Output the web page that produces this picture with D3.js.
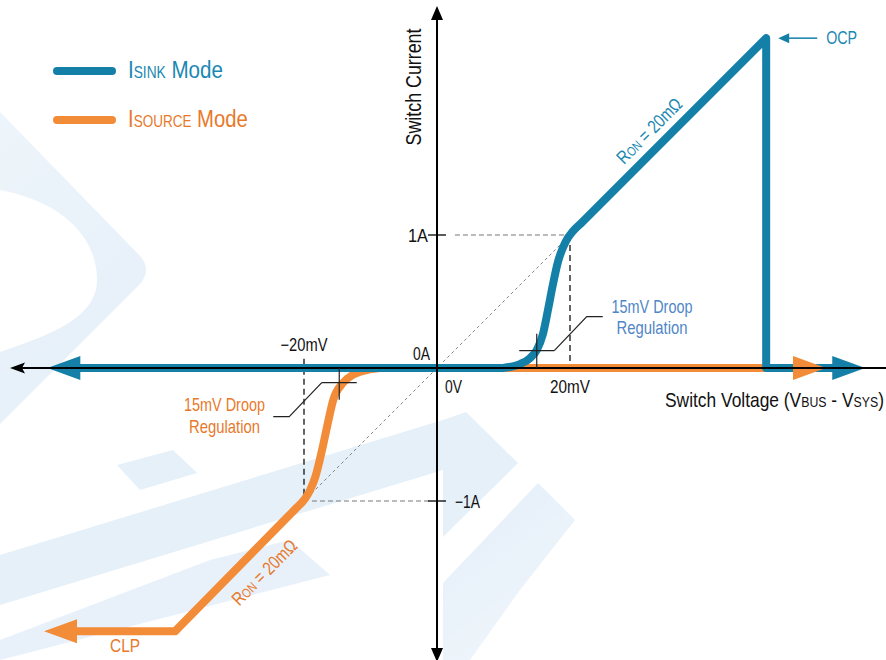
<!DOCTYPE html>
<html>
<head>
<meta charset="utf-8">
<script src="https://cdn.jsdelivr.net/npm/d3@7"></script>
<style>
	body { margin: 0; background: #fff; }
	text { font-family: 'Liberation Sans', Arial, sans-serif; }
</style>
</head>
<body>
<svg id="chart" width="886" height="660"></svg>
<script>

//////////////////////// Data (switch voltage in mV, switch current in A) ////////////////////////

var sinkFlat = [[-58.6, 0], [9.9, 0]];
var sinkKnee = [[9.9, 0], [12.5, 0.03], [14.0, 0.075], [15.0, 0.135], [15.9, 0.25], [16.7, 0.44], [17.4, 0.62], [18.2, 0.80], [18.9, 0.90], [19.7, 0.98], [20.3, 1.02], [21.5, 1.08]];
var sinkRon = [[21.5, 1.08], [49.5, 2.48], [49.5, 0], [64.4, 0]];

var sourceRon = [[-59.1, -1.98], [-39.4, -1.98], [-21.1, -1.05]];
var sourceKnee = [[-21.1, -1.05], [-19.8, -0.98], [-19.1, -0.92], [-18.3, -0.82], [-17.3, -0.62], [-16.4, -0.41], [-15.6, -0.24], [-14.1, -0.11], [-12.6, -0.05], [-10.1, -0.01], [-8.6, 0]];
var sourceFlat = [[-8.6, 0], [58.5, 0]];

var xTicks = [-20, 0, 20];
var xTickLabels = ["\u221220mV", "0V", "20mV"];
var xTickWidths = [47, 17, 40];
var yTicks = [1, 0, -1];
var yTickLabels = ["1A", "0A", "\u22121A"];
var yTickWidths = [20, 17, 25];

var droopPoints = [[15.0, 0.13], [-14.7, -0.11]];
var ronLabelPoints = [[33.8, 1.69], [-28.3, -1.42]];
var ocpPoint = [49.5, 2.48];
var clpPoint = [-39.4, -1.98];

var sinkColor = "#1480a8",
	sourceColor = "#f28c38",
	sinkText = "#1a88b2",
	sourceText = "#e8792b",
	droopBlue = "#4f86c6",
	bgColor = "#e6f0f9";

//////////////////////// Setup ////////////////////////

var svg = d3.select("#chart");

var x = d3.scaleLinear().domain([0, 20]).range([437, 570]);
var y = d3.scaleLinear().domain([0, 1]).range([368, 235]);

var toPx = function(d) { return [x(d[0]), y(d[1])]; };
var lineLinear = d3.line();
var lineSmooth = d3.line().curve(d3.curveMonotoneX);

function joinPaths(parts) {
	return parts.map(function(p, i) { return i ? p.replace(/^M/, "L") : p; }).join("");
}

//place a text and squeeze it horizontally to the narrow width of the original lettering
function label(parent, px, py, opts) {
	var base = "translate(" + px + "," + py + ")" + (opts.rotate ? " rotate(" + opts.rotate + ")" : "");
	var t = parent.append("text")
		.attr("transform", base)
		.style("text-anchor", opts.anchor || "start")
		.style("font-size", opts.size + "px")
		.style("fill", opts.color || "#111");
	(opts.parts || [[opts.text]]).forEach(function(p) {
		var ts = t.append("tspan").text(p[0]);
		if (p[1]) ts.style("font-size", p[1] + "px");
	});
	if (opts.width) {
		var w0 = t.node().getComputedTextLength();
		t.attr("transform", base + " scale(" + (opts.width / w0) + ",1)");
	}
	return t;
}

//////////////////////// Background watermark ////////////////////////

var bg = svg.append("g").attr("class", "watermark").style("fill", bgColor);

bg.append("path")
	.attr("d", "M0,112 L140,256 Q152,270 140,284 L0,424 L0,352 C50,335 97,318 97,280 C97,232 55,200 0,190 Z");
bg.append("path")
	.attr("d", "M0,555 L443,420 L443,470 L0,605 Z");
bg.append("path")
	.attr("d", "M117,465 L173,450 L197,473 L140,490 Z");
bg.append("path")
	.attr("d", "M210,560 L290,540 L330,575 L0,660 L0,640 Z")
	.style("opacity", 0.9);
bg.append("path")
	.attr("d", "M443,420 L466,412 L518,463 L443,537 Z");
bg.append("path")
	.attr("d", "M443,583 L538,483 L575,520 L520,590 L470,660 L443,660 Z");

//fading overlay towards the lower right
var grad = svg.append("defs").append("linearGradient")
	.attr("id", "fade").attr("x1", "0%").attr("y1", "0%").attr("x2", "100%").attr("y2", "100%");
grad.append("stop").attr("offset", "0%").attr("stop-color", "#fff").attr("stop-opacity", 0.4);
grad.append("stop").attr("offset", "35%").attr("stop-color", "#fff").attr("stop-opacity", 0);
grad.append("stop").attr("offset", "65%").attr("stop-color", "#fff").attr("stop-opacity", 0);
grad.append("stop").attr("offset", "100%").attr("stop-color", "#fff").attr("stop-opacity", 0.9);
svg.append("rect").attr("width", 886).attr("height", 660).style("fill", "url(#fade)");

//////////////////////// Guide lines ////////////////////////

var guides = svg.append("g").attr("class", "guides");

//thin diagonal through the origin
guides.append("line")
	.attr("x1", x(-19.5)).attr("y1", y(-0.975))
	.attr("x2", x(19.5)).attr("y2", y(0.975))
	.style("stroke", "#666").style("stroke-width", 0.8).style("stroke-dasharray", "3,3");

//horizontal dashed at +/- 1A
guides.append("line")
	.attr("x1", x(2.7)).attr("y1", y(1)).attr("x2", x(20)).attr("y2", y(1))
	.style("stroke", "#777").style("stroke-width", 1).style("stroke-dasharray", "5,3");
guides.append("line")
	.attr("x1", x(-18.8)).attr("y1", y(-1)).attr("x2", x(-1)).attr("y2", y(-1))
	.style("stroke", "#777").style("stroke-width", 1).style("stroke-dasharray", "5,3");

//vertical dashed at +/- 20mV
guides.append("line")
	.attr("x1", x(20)).attr("y1", y(1)).attr("x2", x(20)).attr("y2", y(-0.04))
	.style("stroke", "#111").style("stroke-width", 1.3).style("stroke-dasharray", "6,4");
guides.append("line")
	.attr("x1", x(-20)).attr("y1", y(0.07)).attr("x2", x(-20)).attr("y2", y(-0.98))
	.style("stroke", "#111").style("stroke-width", 1.3).style("stroke-dasharray", "6,4");

//////////////////////// Curves ////////////////////////

var arrowLen = 33, arrowHalf = 12;

function arrowHead(tip, dir, color) {
	var bx = tip[0] - dir * arrowLen;
	svg.append("path")
		.attr("d", "M" + tip[0] + "," + tip[1] + "L" + bx + "," + (tip[1] - arrowHalf) + "L" + bx + "," + (tip[1] + arrowHalf) + "Z")
		.style("fill", color);
}

//Source mode (orange)
var srcA = sourceRon.map(toPx); srcA[0][0] += arrowLen - 2;
var srcC = sourceFlat.map(toPx); srcC[srcC.length - 1][0] -= arrowLen - 2;
svg.append("path")
	.attr("class", "source-line")
	.attr("d", joinPaths([lineLinear(srcA), lineSmooth(sourceKnee.map(toPx)), lineLinear(srcC)]))
	.style("fill", "none").style("stroke", sourceColor).style("stroke-width", 8)
	.style("stroke-linejoin", "round");

//Sink mode (blue)
var snkA = sinkFlat.map(toPx); snkA[0][0] += arrowLen - 2;
var snkC = sinkRon.map(toPx); snkC[snkC.length - 1][0] -= arrowLen - 2;
svg.append("path")
	.attr("class", "sink-line")
	.attr("d", joinPaths([lineLinear(snkA), lineSmooth(sinkKnee.map(toPx)), lineLinear(snkC)]))
	.style("fill", "none").style("stroke", sinkColor).style("stroke-width", 8)
	.style("stroke-linejoin", "round");

arrowHead(toPx(sourceFlat[sourceFlat.length - 1]), 1, sourceColor);
arrowHead(toPx(sourceRon[0]), -1, sourceColor);
arrowHead(toPx(sinkRon[sinkRon.length - 1]), 1, sinkColor);
arrowHead(toPx(sinkFlat[0]), -1, sinkColor);

//////////////////////// Axes ////////////////////////

var axes = svg.append("g").attr("class", "axes");
var x0 = x(0), y0 = y(0);

axes.append("line").attr("x1", 18).attr("y1", y0).attr("x2", 886).attr("y2", y0)
	.style("stroke", "#000").style("stroke-width", 2);
axes.append("path").attr("d", "M10," + y0 + "L25," + (y0 - 5.5) + "L22," + y0 + "L25," + (y0 + 5.5) + "Z").style("fill", "#000");

axes.append("line").attr("x1", x0).attr("y1", 14).attr("x2", x0).attr("y2", 652)
	.style("stroke", "#000").style("stroke-width", 2);
axes.append("path").attr("d", "M" + x0 + ",6L" + (x0 - 6) + ",20L" + (x0 + 6) + ",20Z").style("fill", "#000");
axes.append("path").attr("d", "M" + x0 + ",662L" + (x0 - 6) + ",648L" + (x0 + 6) + ",648Z").style("fill", "#000");

//y ticks
axes.selectAll(".y-tick")
	.data(yTicks.filter(function(d) { return d !== 0; }))
	.enter().append("line")
	.attr("class", "y-tick")
	.attr("x1", x0 - 9).attr("x2", x0 + 9)
	.attr("y1", function(d) { return y(d); }).attr("y2", function(d) { return y(d); })
	.style("stroke", "#000").style("stroke-width", 1.3);

yTicks.forEach(function(d, i) {
	label(axes, d < 0 ? x0 + 18 : x0 - (d === 0 ? 7 : 9), d === 0 ? y0 - 8 : y(d) + 6.5,
		{ text: yTickLabels[i], anchor: d < 0 ? "start" : "end", size: 18, width: yTickWidths[i] });
});

xTicks.forEach(function(d, i) {
	label(axes, d === 0 ? x0 + 8 : x(d), d < 0 ? y0 - 17 : y0 + 25,
		{ text: xTickLabels[i], anchor: d === 0 ? "start" : "middle", size: 18, width: xTickWidths[i] });
});

//axis titles
label(axes, 421, 87, { text: "Switch Current", rotate: -90, anchor: "middle", size: 21.5, width: 117 });

label(axes, 665, 407, {
	size: 20.5, width: 219,
	parts: [["Switch Voltage (V"], ["BUS", 14.5], [" - V"], ["SYS", 14.5], [")"]]
});

//////////////////////// Annotations ////////////////////////

var ann = svg.append("g").attr("class", "annotations");

//droop crosshairs and leaders
var droopSide = [1, -1];
droopPoints.forEach(function(d, i) {
	var cx = x(d[0]), cy = y(d[1]), s = droopSide[i];
	ann.append("line").attr("x1", cx).attr("x2", cx)
		.attr("y1", s > 0 ? cy - 17 : y0).attr("y2", s > 0 ? y0 : cy + 17)
		.style("stroke", "#222").style("stroke-width", 1.2);
	ann.append("line").attr("x1", cx - 17.5).attr("x2", cx + 17.5)
		.attr("y1", cy).attr("y2", cy)
		.style("stroke", "#222").style("stroke-width", 1.2);
	ann.append("path")
		.attr("d", "M" + (cx + s * 17.5) + "," + cy + "L" + (cx + s * 50) + "," + (cy - s * 34) + "L" + (cx + s * 66) + "," + (cy - s * 34))
		.style("fill", "none").style("stroke", "#222").style("stroke-width", 1.2);
});

function droopText(cx, by, color) {
	[["15mV Droop", 81], ["Regulation", 71]].forEach(function(t, i) {
		label(ann, cx, by + i * 21.5, { text: t[0], anchor: "middle", size: 17.5, color: color, width: t[1] });
	});
}
droopText(652, 312.5, droopBlue);
droopText(224.5, 411, sourceText);

//Ron labels along the slopes
function ronLabel(d, off, color) {
	label(ann, x(d[0]) + off, y(d[1]) + off, {
		rotate: -45, anchor: "middle", size: 18.5, color: color, width: 84,
		parts: [["R"], ["ON", 13], [" = 20m\u03A9"]]
	});
}
ronLabel(ronLabelPoints[0], -8, sinkText);
ronLabel(ronLabelPoints[1], 20, sourceText);

//OCP
var ocpX = x(ocpPoint[0]), ocpY = y(ocpPoint[1]);
ann.append("line").attr("x1", ocpX + 20).attr("x2", ocpX + 51).attr("y1", ocpY).attr("y2", ocpY)
	.style("stroke", sinkColor).style("stroke-width", 1.5);
ann.append("path")
	.attr("d", "M" + (ocpX + 12) + "," + ocpY + "L" + (ocpX + 23) + "," + (ocpY - 5) + "L" + (ocpX + 23) + "," + (ocpY + 5) + "Z")
	.style("fill", sinkColor);
label(ann, ocpX + 60, ocpY + 5.5, { text: "OCP", size: 17.5, color: sinkText, width: 31 });

//CLP
label(ann, x(clpPoint[0]) - 50, y(clpPoint[1]) + 21, { text: "CLP", anchor: "middle", size: 18.5, color: sourceText, width: 30 });

//////////////////////// Legend ////////////////////////

var legendItems = [
	{ sub: "SINK", color: sinkColor, text: sinkText, width: 95 },
	{ sub: "SOURCE", color: sourceColor, text: sourceText, width: 120 }
];

var legend = svg.append("g").attr("class", "legend");

legendItems.forEach(function(d, i) {
	var ly = 71 + i * 49;
	legend.append("line")
		.attr("x1", 57).attr("x2", 112).attr("y1", ly).attr("y2", ly)
		.style("stroke", d.color)
		.style("stroke-width", 8)
		.style("stroke-linecap", "round");
	label(legend, 128, ly + 7, { size: 24, color: d.text, width: d.width, parts: [["I"], [d.sub, 16], [" Mode"]] });
});

</script>
</body>
</html>
